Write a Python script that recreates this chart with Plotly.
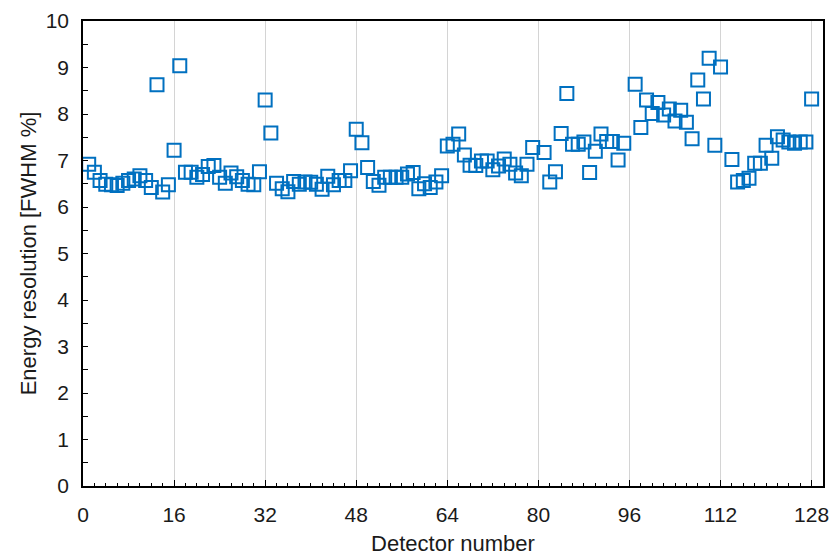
import plotly.graph_objects as go

detectors = list(range(1, 129))
resolution = [
    6.92, 6.75, 6.57, 6.49, 6.48, 6.46, 6.51, 6.57, 6.60, 6.67,
    6.57, 6.42, 8.63, 6.32, 6.48, 7.22, 9.04, 6.75, 6.75, 6.64,
    6.70, 6.87, 6.89, 6.64, 6.51, 6.73, 6.65, 6.57, 6.49, 6.48,
    6.76, 8.30, 7.59, 6.51, 6.39, 6.33, 6.55, 6.49, 6.54, 6.53,
    6.49, 6.38, 6.66, 6.48, 6.57, 6.57, 6.78, 7.67, 7.38, 6.85,
    6.55, 6.47, 6.64, 6.64, 6.64, 6.64, 6.71, 6.74, 6.39, 6.50,
    6.42, 6.54, 6.67, 7.31, 7.35, 7.57, 7.12, 6.90, 6.89, 6.99,
    6.99, 6.80, 6.88, 7.03, 6.92, 6.73, 6.67, 6.92, 7.28, None,
    7.17, 6.54, 6.76, 7.58, 8.44, 7.35, 7.35, 7.40, 6.74, 7.20,
    7.57, 7.41, 7.41, 7.01, 7.37, None, 8.64, 7.71, 8.30, 8.01,
    8.25, 7.98, 8.11, 7.85, 8.08, 7.82, 7.47, 8.73, 8.32, 9.20,
    7.33, 9.01, None, 7.02, 6.54, 6.57, 6.62, 6.94, 6.94, 7.33,
    7.05, 7.51, 7.44, 7.40, 7.37, 7.40, 7.40, 8.32,
]
x_ticks = [0, 16, 32, 48, 64, 80, 96, 112, 128]
y_ticks = list(range(0, 11))

font_family = "Arial, Liberation Sans, sans-serif"
blue = "#0070C0"

fig = go.Figure()
fig.add_trace(go.Scatter(
    x=detectors, y=resolution, mode="markers",
    marker=dict(symbol="square-open", size=13, color=blue,
                line=dict(width=2, color=blue)),
    showlegend=False,
))

fig.update_layout(
    width=834, height=560,
    margin=dict(l=83, r=11, t=21, b=74),
    plot_bgcolor="white", paper_bgcolor="white",
    font=dict(family=font_family, size=21, color="#1a1a1a"),
)
fig.update_xaxes(
    range=[0, 130], tickvals=x_ticks, ticktext=[str(v) for v in x_ticks],
    showgrid=True, gridcolor="#d4d4d4", gridwidth=1,
    showline=True, linecolor="black", linewidth=1.5, mirror=True,
    ticks="inside", ticklen=6, tickcolor="black", tickwidth=1,
    minor=dict(dtick=2, tick0=0, ticks="inside", ticklen=3, tickcolor="black", showgrid=False),
    zeroline=False, automargin=False,
    title=dict(text="Detector number", font=dict(size=22), standoff=11),
    tickfont=dict(size=21),
    ticklabelstandoff=9,
)
fig.update_yaxes(
    range=[0, 10], tickvals=y_ticks,
    showgrid=False,
    showline=True, linecolor="black", linewidth=1.5, mirror=True,
    ticks="inside", ticklen=5, tickcolor="black", tickwidth=1,
    minor=dict(dtick=0.5, tick0=0, ticks="inside", ticklen=5, tickcolor="black", showgrid=False),
    zeroline=False, automargin=False,
    title=dict(text="Energy resolution [FWHM %]", font=dict(size=22), standoff=3),
    tickfont=dict(size=21),
    ticklabelstandoff=8,
)

fig.write_html("out.html")
